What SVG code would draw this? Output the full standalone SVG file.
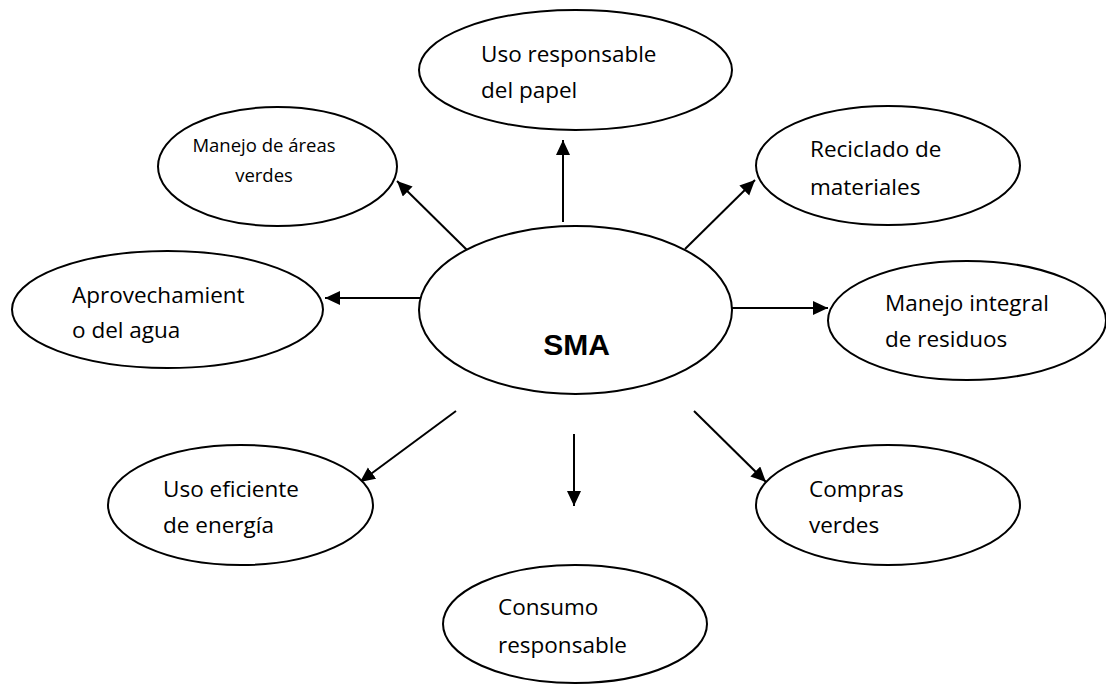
<svg xmlns="http://www.w3.org/2000/svg" width="1106" height="684" viewBox="0 0 1106 684">
<style>
.node ellipse{fill:#fff;stroke:#000;stroke-width:2}
.lbl{font-family:"Open Sans","Noto Sans",sans-serif;font-size:22.5px;fill:#000}
.small{font-size:18.5px;text-anchor:middle}
.title{font-family:"Liberation Sans",Arial,sans-serif;font-size:30px;font-weight:bold;fill:#000;text-anchor:middle}
.conn line{stroke:#000;stroke-width:2;fill:none;marker-end:url(#arr)}
</style>
<defs>
<marker id="arr" markerUnits="userSpaceOnUse" markerWidth="17" markerHeight="15" refX="15" refY="7" orient="auto">
<path d="M0,0 L15,7 L0,14 z" fill="#000"/>
</marker>
</defs>
<rect width="1106" height="684" fill="#fff"/>
<g id="connectors" class="conn">
<line x1="563" y1="222" x2="563" y2="140"/>
<line x1="467" y1="250" x2="397" y2="181"/>
<line x1="685" y1="249" x2="755" y2="180"/>
<line x1="420" y1="298" x2="325" y2="298"/>
<line x1="732" y1="308" x2="828" y2="308"/>
<line x1="456" y1="411" x2="360" y2="482"/>
<line x1="574" y1="434" x2="574" y2="506"/>
<line x1="694" y1="411" x2="766" y2="482"/>
</g>
<g id="n-sma" class="node">
<ellipse cx="575.5" cy="310" rx="156.5" ry="84"/>
<text class="title" x="576.5" y="355">SMA</text>
</g>
<g id="n-papel" class="node">
<ellipse cx="575.5" cy="70" rx="156.5" ry="60"/>
<text class="lbl" x="481" y="62">Uso responsable</text>
<text class="lbl" x="481" y="98">del papel</text>
</g>
<g id="n-areas" class="node">
<ellipse cx="277.5" cy="166.5" rx="119.5" ry="59.5"/>
<text class="lbl small" x="264" y="152">Manejo de áreas</text>
<text class="lbl small" x="264" y="182">verdes</text>
</g>
<g id="n-reciclado" class="node">
<ellipse cx="888" cy="165.5" rx="132" ry="59.5"/>
<text class="lbl" x="810" y="157">Reciclado de</text>
<text class="lbl" x="810" y="195">materiales</text>
</g>
<g id="n-agua" class="node">
<ellipse cx="167.5" cy="309.5" rx="155.5" ry="58.5"/>
<text class="lbl" x="72" y="303">Aprovechamient</text>
<text class="lbl" x="72" y="338">o del agua</text>
</g>
<g id="n-residuos" class="node">
<ellipse cx="967" cy="320.5" rx="139" ry="59.5"/>
<text class="lbl" x="885" y="311">Manejo integral</text>
<text class="lbl" x="885" y="347">de residuos</text>
</g>
<g id="n-energia" class="node">
<ellipse cx="240.5" cy="505" rx="132.5" ry="60"/>
<text class="lbl" x="163" y="497">Uso eficiente</text>
<text class="lbl" x="163" y="533">de energía</text>
</g>
<g id="n-compras" class="node">
<ellipse cx="888" cy="505" rx="132" ry="60"/>
<text class="lbl" x="809" y="497">Compras</text>
<text class="lbl" x="809" y="533">verdes</text>
</g>
<g id="n-consumo" class="node">
<ellipse cx="575" cy="624" rx="132" ry="59"/>
<text class="lbl" x="498" y="615">Consumo</text>
<text class="lbl" x="498" y="653">responsable</text>
</g>
</svg>
